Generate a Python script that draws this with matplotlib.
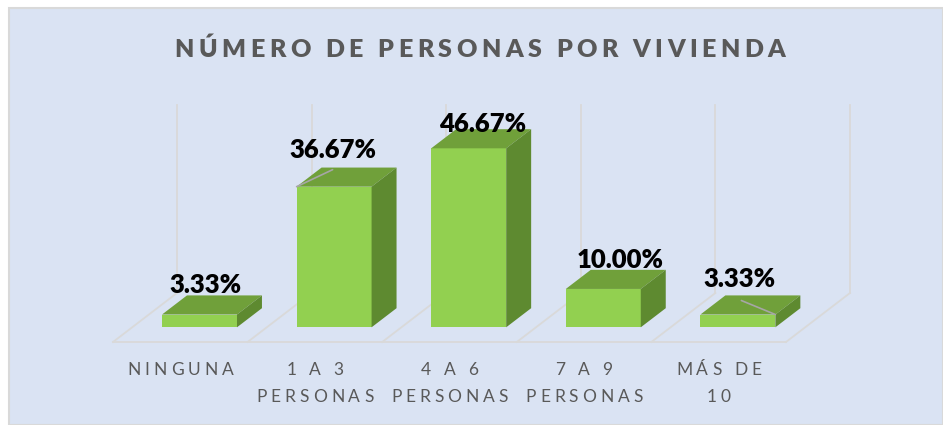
import matplotlib
matplotlib.use('Agg')
import matplotlib.pyplot as plt
from matplotlib.patches import Polygon, Rectangle
from matplotlib.font_manager import FontProperties
from matplotlib.transforms import IdentityTransform

# data
categories = ['NINGUNA', '1 A 3\nPERSONAS', '4 A 6\nPERSONAS', '7 A 9\nPERSONAS', 'MÁS DE\n10']
values = [3.33, 36.67, 46.67, 10.00, 3.33]
value_labels = ['3.33%', '36.67%', '46.67%', '10.00%', '3.33%']
title = 'NÚMERO DE PERSONAS POR VIVIENDA'

W, H = 943, 425
FAMILY = ['Lato', 'DejaVu Sans']
FRONT, TOP, SIDE = '#92D050', '#70A03A', '#5E8A30'
GRID, TXT, BG = '#D9D9D9', '#595959', '#DAE3F3'

# fake 3d geometry (floor depth in category units / percent)
DX, DY = 0.4755, 12.78
WALL = 49
F0, BD = 0.30, 0.39   # bar front position and bar depth as fraction of floor depth
BW = 0.557

fig = plt.figure(figsize=(W / 100, H / 100), dpi=100)
fig.patch.set_facecolor('white')
fig.add_artist(Rectangle((9 / W, 0), 1 - 9 / W, (H - 8) / H, transform=fig.transFigure,
                         facecolor=BG, edgecolor=GRID, lw=1.5, zorder=-10))

ax = fig.add_axes([113 / W, 83 / H, 673 / W, 191.75 / H])
ax.set_xlim(0, 5)
ax.set_ylim(0, 50)
ax.axis('off')

# floor and back wall lines
ax.plot([0, 5], [0, 0], color=GRID, lw=1.3, clip_on=False)
for i in range(6):
    ax.plot([i, i + DX], [0, DY], color=GRID, lw=1.3, clip_on=False)
    ax.plot([i + DX, i + DX], [DY, DY + WALL], color=GRID, lw=1.3, clip_on=False)

# bars
x = [i + 0.5 + F0 * DX for i in range(len(values))]
bot = F0 * DY
ax.bar(x, values, width=BW, bottom=bot, color=FRONT, zorder=3, clip_on=False)
ddx, ddy = BD * DX, BD * DY
for xi, v in zip(x, values):
    xl, xr, top = xi - BW / 2, xi + BW / 2, bot + v
    ax.add_patch(Polygon([(xl, top), (xr, top), (xr + ddx, top + ddy), (xl + ddx, top + ddy)],
                         closed=True, facecolor=TOP, edgecolor='none', zorder=3, clip_on=False))
    ax.add_patch(Polygon([(xr, bot), (xr, top), (xr + ddx, top + ddy), (xr + ddx, bot + ddy)],
                         closed=True, facecolor=SIDE, edgecolor='none', zorder=3, clip_on=False))

# value labels (nudges in pixels)
nudges = [(5.5, 2), (-1, 10), (14, -3), (17, 2), (2, 8)]
for xi, v, lbl, (nx, ny) in zip(x, values, value_labels, nudges):
    ax.annotate(lbl, (xi, bot + v + ddy), xytext=(nx, ny), textcoords='offset pixels',
                ha='center', va='baseline', fontsize=18.5, fontweight='heavy',
                color='black', family=FAMILY, zorder=5, annotation_clip=False)

# leader lines
ax.annotate('', xy=(x[1] - BW / 2, bot + values[1]), xytext=(36, 17), textcoords='offset pixels',
            arrowprops=dict(arrowstyle='-', color='#A6A6A6', lw=1.2, shrinkA=0, shrinkB=0), zorder=4)
ax.annotate('', xy=(x[4] + BW / 2, bot + values[4]), xytext=(-34, 14), textcoords='offset pixels',
            arrowprops=dict(arrowstyle='-', color='#A6A6A6', lw=1.2, shrinkA=0, shrinkB=0), zorder=4)

renderer = fig.canvas.get_renderer()


def spaced(cx, y, s, size, spacing, weight='normal', color=TXT):
    # letter-spaced text, centred at cx, baseline at y (pixels)
    fp = FontProperties(family=FAMILY, size=size, weight=weight)
    wid = lambda t: renderer.get_text_width_height_descent(t, fp, ismath=False)[0]
    ref = wid('|')
    pos = [wid(s[:k] + '|') - ref for k in range(len(s))]
    total = wid(s + '|') - ref + spacing * (len(s) - 1)
    x0 = cx - total / 2
    for k, ch in enumerate(s):
        if ch != ' ':
            fig.text(x0 + pos[k] + k * spacing, y, ch, fontproperties=fp, color=color,
                     ha='left', va='baseline', transform=IdentityTransform())


spaced(480, H - 57, title, 18, 4.5, weight='heavy')

for i, cat in enumerate(categories):
    cx, cy = ax.transData.transform((i + 0.5, 0))
    for j, line in enumerate(cat.split('\n')):
        spaced(cx, cy - 33 - 27 * j, line, 12.5, 4)

fig.savefig('out.png', dpi=100)
